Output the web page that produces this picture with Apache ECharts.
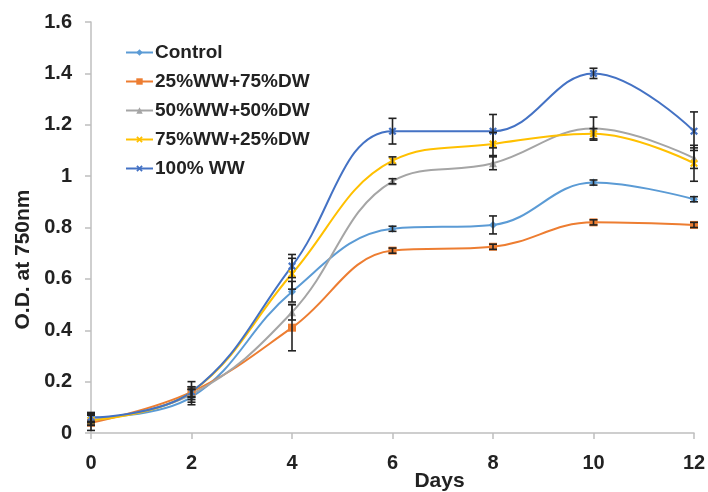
<!DOCTYPE html>
<html>
<head>
  <meta charset="UTF-8">
  <script src="https://cdn.jsdelivr.net/npm/echarts@6/dist/echarts.min.js"></script>
  <style>
    html, body { margin: 0; padding: 0; background: #fff; }
    #main { width: 708px; height: 492px; }
  </style>
</head>
<body>
  <div id="main"></div>
  <script>
    // days on the x axis
    var days = [0, 2, 4, 6, 8, 10, 12];

    // O.D. at 750nm
    var control = [0.06, 0.14, 0.55, 0.795, 0.81, 0.975, 0.91];
    var ww25 = [0.04, 0.16, 0.41, 0.71, 0.725, 0.82, 0.81];
    var ww50 = [0.05, 0.15, 0.47, 0.98, 1.05, 1.185, 1.07];
    var ww75 = [0.05, 0.16, 0.62, 1.06, 1.125, 1.165, 1.05];
    var ww100 = [0.06, 0.16, 0.65, 1.175, 1.175, 1.40, 1.175];

    // error bar half widths
    var errControl = [0.015, 0.03, 0.04, 0.01, 0.035, 0.01, 0.01];
    var err25 = [0.03, 0.02, 0.09, 0.01, 0.01, 0.01, 0.01];
    var err50 = [0.02, 0.02, 0.03, 0.01, 0.025, 0.045, 0.04];
    var err75 = [0.02, 0.02, 0.06, 0.015, 0.045, 0.02, 0.07];
    var err100 = [0.02, 0.04, 0.045, 0.05, 0.065, 0.02, 0.075];

    var names = ['Control', '25%WW+75%DW', '50%WW+50%DW', '75%WW+25%DW', '100% WW'];
    var colors = ['#5b9bd5', '#ed7d31', '#a5a5a5', '#ffc000', '#4472c4'];

    var xShape = 'path://M2,0L5,3L8,0L10,2L7,5L10,8L8,10L5,7L2,10L0,8L3,5L0,2Z';
    var symbols = ['diamond', 'rect', 'triangle', xShape, xShape];

    var allValues = [control, ww25, ww50, ww75, ww100];
    var allErrors = [errControl, err25, err50, err75, err100];

    var font = 'Liberation Sans, Arial, sans-serif';

    function pairs(vals) {
      return days.map(function (d, i) { return [d, vals[i]]; });
    }

    var errData = [];
    allValues.forEach(function (vals, s) {
      vals.forEach(function (v, i) {
        var e = allErrors[s][i];
        errData.push([days[i], v - e, v + e]);
      });
    });

    var series = names.map(function (n, s) {
      return {
        name: n,
        type: 'line',
        data: pairs(allValues[s]),
        smooth: 0.4,
        symbol: symbols[s],
        symbolSize: 8,
        z: 3,
        lineStyle: { color: colors[s], width: 2 },
        itemStyle: { color: colors[s] }
      };
    });

    series.push({
      type: 'custom',
      name: 'err',
      z: 4,
      data: errData,
      renderItem: function (params, api) {
        var x = api.value(0);
        var lo = api.coord([x, api.value(1)]);
        var hi = api.coord([x, api.value(2)]);
        var w = 4;
        var st = { stroke: '#222', lineWidth: 1.6 };
        return {
          type: 'group',
          children: [
            { type: 'line', shape: { x1: lo[0], y1: lo[1], x2: hi[0], y2: hi[1] }, style: st },
            { type: 'line', shape: { x1: lo[0] - w, y1: lo[1], x2: lo[0] + w, y2: lo[1] }, style: st },
            { type: 'line', shape: { x1: hi[0] - w, y1: hi[1], x2: hi[0] + w, y2: hi[1] }, style: st }
          ]
        };
      }
    });

    var chart = echarts.init(document.getElementById('main'));
    chart.setOption({
      animation: false,
      backgroundColor: '#fff',
      grid: { left: 91, right: 14, top: 22, bottom: 59, outerBoundsMode: 'none' },
      legend: {
        data: names,
        orient: 'vertical',
        left: 120,
        top: 38,
        itemWidth: 27,
        itemHeight: 8,
        itemGap: 10,
        textStyle: { fontFamily: font, fontWeight: 'bold', fontSize: 19, color: '#222', lineHeight: 19, padding: [0, 0, 0, -3] }
      },
      xAxis: {
        type: 'value',
        min: 0,
        max: 12,
        interval: 2,
        name: 'Days',
        nameLocation: 'middle',
        nameGap: 38,
        nameMoveOverlap: false,
        nameTextStyle: { fontFamily: font, fontWeight: 'bold', fontSize: 21, color: '#222', padding: [0, 0, 0, 94] },
        splitLine: { show: false },
        axisLine: { lineStyle: { color: '#bfbfbf', width: 1.5 } },
        axisTick: { length: 6, lineStyle: { color: '#bfbfbf', width: 1.5 } },
        axisLabel: { fontFamily: font, fontWeight: 'bold', fontSize: 20, color: '#222', margin: 20 }
      },
      yAxis: {
        type: 'value',
        min: 0,
        max: 1.6,
        interval: 0.2,
        name: 'O.D. at 750nm',
        nameLocation: 'middle',
        nameGap: 57,
        nameMoveOverlap: false,
        nameTextStyle: { fontFamily: font, fontWeight: 'bold', fontSize: 21, color: '#222', padding: [0, 64, 0, 0] },
        splitLine: { show: false },
        axisLine: { show: true, lineStyle: { color: '#bfbfbf', width: 1.5 } },
        axisTick: { show: true, length: 6, lineStyle: { color: '#bfbfbf', width: 1.5 } },
        axisLabel: { fontFamily: font, fontWeight: 'bold', fontSize: 20, color: '#222', margin: 19 }
      },
      series: series
    });
  </script>
</body>
</html>
